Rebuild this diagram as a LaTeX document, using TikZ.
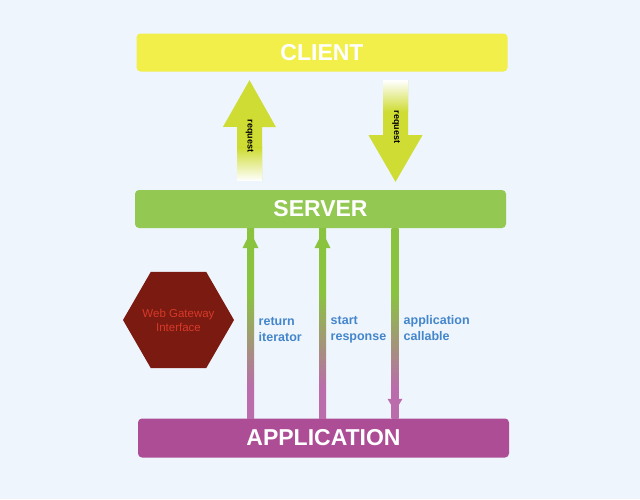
\documentclass[tikz,border=0pt]{standalone}
\usepackage{fontspec}
\setmainfont{Liberation Sans}
\usepackage{xcolor}
\usepackage{tikz}
\usetikzlibrary{shapes.geometric}
\usetikzlibrary{calc}

\definecolor{bgblue}{HTML}{EEF5FC}
\definecolor{clientyellow}{HTML}{F2EE4A}
\definecolor{servergreen}{HTML}{93C853}
\definecolor{apppurple}{HTML}{AD4D96}
\definecolor{reqlime}{HTML}{CEDC33}
\definecolor{wiregreen}{HTML}{8AC43F}
\definecolor{wirepink}{HTML}{BA6CAB}
\definecolor{hexred}{HTML}{7A1A10}
\definecolor{hextext}{HTML}{D8392B}
\definecolor{labelblue}{HTML}{4486CC}

\pgfdeclareverticalshading{wirefade}{100bp}{color(0bp)=(wirepink); color(33bp)=(wirepink); color(58bp)=(wiregreen); color(100bp)=(wiregreen)}

\begin{document}
\begin{tikzpicture}[x=1pt,y=-1pt,
    layer/.style={rectangle, rounded corners=4pt, minimum width=371pt, minimum height=38pt,
      text=white, font=\fontsize{23}{27}\selectfont\bfseries},
    reqtext/.style={rotate=-90, inner sep=0pt, font=\fontsize{9}{10}\selectfont\bfseries},
    wirelabel/.style={anchor=west, align=left, inner sep=0pt, text=labelblue,
      font=\fontsize{12.5}{16}\selectfont\bfseries}]
    \useasboundingbox (0,0) rectangle (640,499);
    \fill[bgblue] (0,0) rectangle (640,499);

    % the three layers
    \node[layer, fill=clientyellow] (client) at (322,52.5) {CLIENT};
    \node[layer, fill=servergreen] (server) at (320.5,209) {SERVER};
    \node[layer, fill=apppurple, minimum height=39pt] (app) at (323.5,438) {APPLICATION};

    % request arrows between client and server
    \coordinate (up) at (249.5,0);
    \coordinate (down) at (395.5,0);
    \fill[reqlime] ($(up |- client.south)+(0,8.5)$) -- ++(26.5,47) -- ++(-14,0)
      |- ($(up |- server.north)+(-12.5,-9)$) |- ++(-14,-54) -- cycle;
    \shade[top color=reqlime, bottom color=white]
      ($(up |- server.north)+(-12.5,-42)$) rectangle ($(up |- server.north)+(12.5,-9)$);
    \fill[reqlime] ($(down |- client.south)+(-12.5,8.5)$) -- ++(25,0) -- ++(0,55) -- ++(14.5,0)
      -- ($(down |- server.north)+(0,-8)$) -- ($(down |- client.south)+(-27,63.5)$) -- ++(14.5,0) -- cycle;
    \shade[top color=white, bottom color=reqlime]
      ($(down |- client.south)+(-12.5,8.5)$) rectangle ($(down |- client.south)+(12.5,40)$);
    \node[reqtext] (requp) at (249.5,136) {request};
    \node[reqtext] (reqdown) at (396,127) {request};

    % calls between server and application
    \coordinate (w1) at (250.5,0);
    \coordinate (w2) at (322.5,0);
    \coordinate (w3) at (395,0);
    \foreach \w in {w1,w2,w3}
      \shade[shading=wirefade] ($(\w |- server.south)+(-3.5,0)$) rectangle ($(\w |- app.north)+(3.5,0)$);
    \foreach \w in {w1,w2}
      \fill[wiregreen] ($(\w |- server.south)+(-8,20)$) -- ($(\w |- server.south)+(0,4)$)
        -- ($(\w |- server.south)+(8,20)$) -- cycle;
    \fill[wirepink] ($(w3 |- app.north)+(-7.5,-19.5)$) -- ($(w3 |- app.north)+(0,-7)$)
      -- ($(w3 |- app.north)+(7.5,-19.5)$) -- cycle;

    \node[wirelabel] (iter) at (258.5,329.5) {return\\iterator};
    \node[wirelabel] (start) at (330.5,329.5) {start\\response};
    \node[wirelabel] (callable) at (403.5,328.5) {application\\callable};

    \node[regular polygon, regular polygon sides=6, minimum size=111pt, inner sep=0pt,
      fill=hexred, label={[text=hextext, align=center, font=\fontsize{11.5}{14}\selectfont]center:Web Gateway\\Interface}]
      (wsgi) at (178.5,320) {};
\end{tikzpicture}
\end{document}
